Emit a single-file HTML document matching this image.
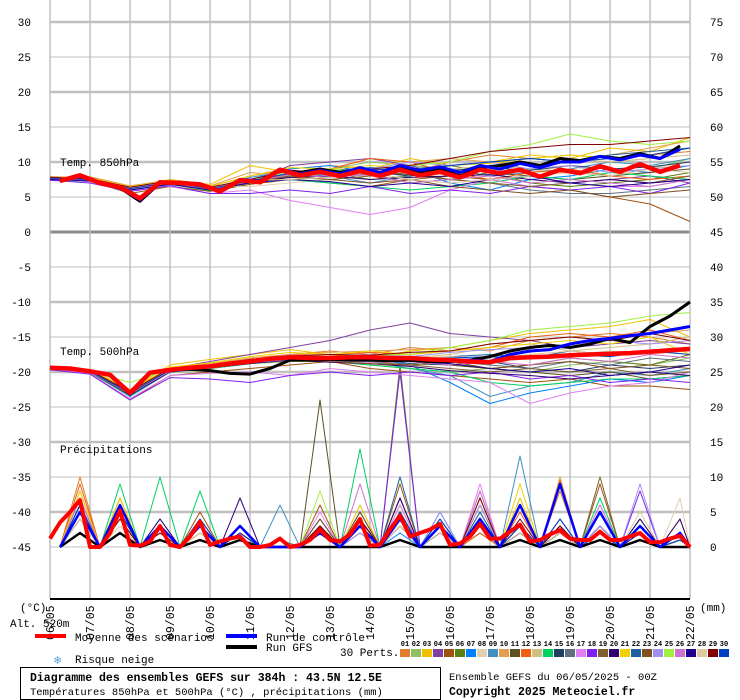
<!DOCTYPE html>
<html><head><meta charset="utf-8">
<style>
html,body{margin:0;padding:0;background:#fff;}
svg{display:block;font-family:"Liberation Mono","DejaVu Sans Mono",monospace;}
</style></head>
<body>
<svg id="chart" width="740" height="700" viewBox="0 0 740 700" xmlns="http://www.w3.org/2000/svg">
<g id="grid"></g>
<g id="series"></g>
<g id="axes"></g>
<text x="60" y="166" font-size="11">Temp. 850hPa</text>
<text x="60" y="355" font-size="11">Temp. 500hPa</text>
<text x="60" y="453" font-size="11">Précipitations</text>
<text x="20" y="611" font-size="11">(°C)</text>
<text x="700" y="611" font-size="11">(mm)</text>
<text x="10" y="627" font-size="11">Alt. 520m</text>
<g>
<rect x="35" y="634" width="31" height="4" fill="#ff0000"/>
<text x="75" y="641" font-size="11">Moyenne des scénarios</text>
<rect x="226" y="634" width="31" height="4" fill="#0000ff"/>
<text x="266" y="641" font-size="11">Run de contrôle</text>
<rect x="226" y="645" width="31" height="4" fill="#000000"/>
<text x="266" y="651" font-size="11">Run GFS</text>
<text x="54" y="664" font-size="12" fill="#5aa0e0">❄</text>
<text x="75" y="663" font-size="11">Risque neige</text>
<text x="340" y="656" font-size="11">30 Perts.</text>
<g id="pertLegend"></g>
</g>
<rect x="20.5" y="667.5" width="420" height="32" fill="none" stroke="#000"/>
<text x="30" y="681" font-size="11.5" font-weight="bold">Diagramme des ensembles GEFS sur 384h : 43.5N 12.5E</text>
<text x="30" y="695" font-size="10.5">Températures 850hPa et 500hPa (°C) , précipitations (mm)</text>
<text x="449" y="680" font-size="10.5">Ensemble GEFS du 06/05/2025 - 00Z</text>
<text x="449" y="695" font-size="11.5" font-weight="bold">Copyright 2025 Meteociel.fr</text>
</svg>
<script>
const dateLabels=["06/05","07/05","08/05","09/05","10/05","11/05","12/05","13/05","14/05","15/05","16/05","17/05","18/05","19/05","20/05","21/05","22/05"];
const leftTicks=[30,25,20,15,10,5,0,-5,-10,-15,-20,-25,-30,-35,-40,-45];
const rightTicks=[75,70,65,60,55,50,45,40,35,30,25,20,15,10,5,0];
const pertColors=["#e07b30","#8cc060","#f0c000","#8040a0","#a05010","#5a8010","#0080ff","#e0d0b0","#4090c0","#e0a050","#605020","#f06010","#d0c080","#00d060","#204060","#607080","#e080f0","#8020f0","#806030","#300070","#f0d000","#2060a0","#805020","#a090f0","#a0f040","#d070d0","#200090","#e0c8a0","#800000","#0040c0"];
// T850 mean/control/GFS: 12h steps starting at hour 6
const t850Mean=[7.3,8.1,7.0,6.4,4.8,7.1,7.0,6.8,5.8,7.4,7.1,8.9,8.1,8.6,8.0,8.7,8.0,8.9,8.1,8.6,7.8,8.9,8.4,8.9,7.9,8.9,8.4,9.4,8.6,9.7,8.6,9.5];
const t850Ctrl=[7.3,8.0,7.0,6.3,4.6,7.0,7.1,6.9,5.8,7.5,7.3,9.0,8.3,8.8,8.3,9.2,8.5,9.5,8.8,9.3,8.5,9.5,9.0,9.8,9.2,10.0,10.0,10.8,10.3,11.0,10.5,11.8];
const t850Gfs=[7.3,8.0,7.0,6.3,4.4,7.0,7.0,6.8,5.7,7.3,7.2,8.8,8.5,9.0,8.5,9.0,8.3,9.2,8.5,9.0,8.0,9.2,9.5,10.0,9.5,10.5,10.2,10.8,10.5,11.2,10.5,12.3];
// T500 mean/control/GFS: 12h steps starting at hour 0
const t500Mean=[-19.4,-19.5,-19.9,-20.4,-23.0,-20.1,-19.7,-19.4,-19.2,-18.8,-18.5,-18.1,-17.9,-18.0,-18.0,-17.9,-17.9,-18.0,-18.0,-18.2,-18.3,-18.5,-18.6,-18.0,-17.9,-17.8,-17.6,-17.5,-17.4,-17.3,-17.1,-16.9,-16.7];
const t500Ctrl=[-19.4,-19.5,-19.9,-20.4,-23.2,-20.1,-19.7,-19.4,-19.2,-18.8,-18.5,-18.1,-17.9,-18.0,-18.0,-17.9,-17.9,-18.0,-18.0,-18.2,-18.3,-18.3,-18.5,-17.5,-17.0,-16.8,-16.0,-15.5,-15.2,-14.8,-14.5,-14.0,-13.5];
const t500Gfs=[-19.4,-19.5,-19.9,-20.4,-23.0,-20.1,-19.7,-19.6,-19.8,-20.2,-20.3,-19.5,-18.3,-18.3,-18.2,-18.3,-18.3,-18.4,-18.3,-18.5,-18.5,-18.3,-17.8,-17.0,-16.5,-16.2,-16.5,-16.0,-15.2,-15.8,-13.5,-12.0,-10.0];
// precip mean: 6h steps from hour 0
const precipMean=[1.2,3.5,5,6.7,0,0,2,5.2,0.3,0.2,0.8,3,0.3,0,1.5,3.6,0.3,0.8,1.2,1.5,0,0,0.3,1.2,0,0.3,1.0,2.5,1.0,0.8,1.8,4.0,0.2,0.3,2.5,4.5,1.5,2.0,2.5,3.3,0.3,0.5,1.5,3.3,1.2,1.2,2.2,3.2,0.8,1.0,1.8,2.4,1.2,1.0,1.0,2.2,1.0,1.0,1.5,2.0,0.7,0.7,1.2,1.6,0];
// daily 18Z precip peaks
const precipCtrl=[5,6,3,3,3,0,2,3,4,3,4,6,9,5,3,2];
const precipGfs=[2,2,1,1,1,0,0,0,1,0,0,1,1,1,1,0];
// members: daily at 00Z
const t850Members=[
[7.8,7.6,6.0,7.2,6.5,8.0,9.0,9.5,9.0,8.5,10.0,11.0,10.5,11.0,10.5,11.0,11.5],
[7.5,7.4,6.3,7.0,6.0,7.5,8.5,9.0,10.0,9.5,9.0,8.0,9.0,8.5,8.0,9.0,10.5],
[7.9,7.8,6.5,7.5,6.8,9.5,8.5,8.0,9.0,10.5,9.5,10.0,11.0,10.5,12.0,11.5,13.5],
[7.6,7.5,6.2,6.8,6.0,7.0,9.5,10.0,10.5,9.5,8.0,7.5,8.0,7.0,7.5,8.0,7.0],
[7.7,7.3,5.5,6.5,5.8,6.8,7.5,7.0,6.5,7.5,8.0,7.5,6.5,6.0,5.0,4.0,1.5],
[7.8,7.6,6.2,7.0,6.2,7.5,8.0,8.5,7.5,8.0,9.5,8.5,7.0,6.5,7.0,7.5,8.5],
[7.5,7.3,6.0,6.8,6.0,7.5,9.0,9.5,8.5,9.0,7.0,6.0,7.5,8.0,9.0,8.5,9.5],
[7.7,7.5,6.4,7.2,6.5,6.5,7.0,7.5,8.0,7.5,8.5,9.0,8.5,9.5,8.0,9.0,10.0],
[7.6,7.4,6.0,7.0,6.2,7.8,8.8,8.0,7.0,8.0,9.0,8.0,8.5,9.0,10.0,9.5,10.5],
[7.8,7.9,6.6,7.4,6.6,8.5,8.0,9.0,10.5,10.0,10.5,10.0,9.5,10.0,11.0,12.0,13.0],
[7.7,7.4,6.1,6.9,6.1,7.2,8.2,7.8,8.5,8.2,7.5,8.5,8.0,7.5,8.0,8.5,9.0],
[7.9,7.6,6.2,7.1,6.2,7.3,8.3,9.0,10.5,10.0,8.5,7.5,8.5,9.0,8.0,7.5,8.0],
[7.6,7.5,6.3,7.0,6.4,7.1,8.1,8.5,8.0,8.8,9.0,9.5,9.0,10.5,10.0,10.5,11.0],
[7.5,7.2,6.0,6.8,5.9,7.0,7.5,7.0,6.5,6.0,6.5,7.0,8.0,7.5,8.5,8.0,7.5],
[7.8,7.6,6.2,7.2,6.3,7.5,8.6,8.2,8.6,8.0,8.8,9.2,8.8,9.5,9.0,9.3,10.0],
[7.7,7.5,6.2,7.1,6.1,7.2,8.0,8.0,8.3,7.0,7.5,7.0,6.0,5.5,5.5,6.0,6.5],
[7.6,7.2,6.3,6.5,5.5,6.0,4.5,3.5,2.5,3.5,6.0,7.5,6.5,7.0,6.5,6.5,7.5],
[7.4,7.0,5.8,6.6,5.5,5.5,6.0,5.5,6.5,5.5,6.0,5.5,6.5,6.0,6.5,5.5,7.0],
[7.7,7.5,6.0,7.0,6.1,7.0,7.8,7.5,8.0,8.5,7.5,7.0,6.5,7.0,7.5,7.0,8.0],
[7.6,7.3,6.1,6.9,6.0,7.1,7.8,8.0,7.5,7.8,8.0,8.2,7.5,7.0,7.5,7.0,7.5],
[7.8,7.7,6.5,7.3,6.5,8.0,9.2,9.0,9.5,9.0,9.5,9.8,10.5,11.0,10.5,11.0,12.0],
[7.7,7.5,6.2,7.1,6.2,7.4,8.6,8.8,9.2,9.0,9.5,10.0,10.5,10.0,11.0,11.5,12.0],
[7.6,7.4,6.0,6.9,6.0,7.0,8.0,7.5,7.0,7.5,6.5,6.0,5.5,6.0,5.0,5.5,6.0],
[7.8,7.6,6.3,7.2,6.2,7.3,8.5,8.0,9.0,10.0,9.5,10.0,9.0,9.5,8.5,9.0,9.5],
[7.7,7.5,6.2,7.0,6.3,7.4,8.6,9.0,8.5,9.5,10.0,11.5,12.5,14.0,13.0,12.5,13.0],
[7.6,7.4,6.1,7.0,6.1,7.2,8.2,7.8,8.2,7.0,7.5,8.0,7.0,7.5,7.0,6.5,7.5],
[7.5,7.3,6.0,6.8,6.0,7.0,7.5,7.2,6.5,7.0,6.5,7.5,8.0,7.0,6.5,7.0,7.5],
[7.8,7.6,6.3,7.2,6.3,7.4,7.5,7.8,8.5,7.5,7.0,7.5,8.0,8.5,8.0,9.0,8.5],
[7.8,7.6,6.4,7.3,6.4,7.5,8.8,8.5,9.0,9.5,10.5,11.5,12.0,12.5,12.5,13.0,13.5],
[7.7,7.5,6.2,7.1,6.2,7.3,8.4,8.6,9.0,8.8,9.5,10.0,10.5,10.0,10.5,11.0,12.0]];
const t500Members=[
[-19.3,-19.8,-22.8,-19.5,-19.0,-18.0,-17.5,-17.0,-17.5,-16.5,-17.0,-16.0,-15.5,-15.0,-14.5,-15.0,-16.0],
[-19.5,-20.0,-23.2,-19.8,-19.5,-18.8,-18.5,-18.5,-19.0,-19.5,-20.0,-19.5,-20.0,-19.0,-18.5,-19.0,-18.0],
[-19.2,-19.6,-22.5,-19.0,-18.2,-17.5,-16.8,-17.5,-18.0,-17.0,-16.5,-15.5,-14.5,-14.0,-13.5,-12.5,-15.0],
[-19.4,-19.9,-23.0,-19.5,-18.5,-17.5,-16.5,-15.5,-14.0,-13.0,-14.5,-15.0,-15.5,-16.5,-16.0,-15.5,-16.0],
[-19.6,-20.2,-24.0,-20.5,-20.0,-19.5,-19.0,-18.5,-19.5,-20.0,-20.5,-21.0,-21.5,-21.0,-22.0,-22.0,-22.5],
[-19.4,-19.9,-23.2,-19.8,-19.0,-18.5,-17.8,-18.0,-17.5,-18.5,-19.0,-19.5,-19.0,-18.0,-18.5,-19.0,-17.5],
[-19.5,-20.0,-23.5,-20.0,-19.5,-18.8,-18.2,-18.5,-18.0,-19.0,-21.5,-24.5,-23.0,-22.0,-21.0,-21.5,-20.5],
[-19.3,-19.8,-22.9,-19.6,-19.1,-18.4,-18.0,-18.5,-19.0,-19.2,-18.5,-18.8,-18.0,-17.5,-17.0,-17.5,-17.0],
[-19.5,-20.0,-23.3,-19.9,-19.4,-18.7,-18.1,-18.3,-18.5,-19.5,-20.5,-23.5,-22.0,-21.5,-20.0,-20.5,-19.5],
[-19.3,-19.7,-22.7,-19.4,-18.8,-18.0,-17.5,-17.2,-17.0,-16.8,-16.5,-17.0,-15.5,-15.0,-15.5,-14.5,-14.0],
[-19.4,-19.9,-23.1,-19.7,-19.3,-18.6,-18.0,-18.2,-18.0,-18.5,-19.0,-19.5,-20.0,-20.5,-20.0,-21.0,-20.5],
[-19.4,-19.8,-23.0,-19.6,-19.1,-18.3,-17.6,-17.5,-17.2,-17.5,-17.0,-16.5,-15.0,-14.5,-15.0,-14.0,-15.5],
[-19.3,-19.8,-22.8,-19.5,-19.0,-18.2,-17.8,-18.0,-18.5,-18.0,-17.5,-16.5,-16.0,-17.0,-16.5,-16.0,-15.0],
[-19.5,-20.1,-23.4,-20.0,-19.5,-18.8,-18.3,-18.5,-19.0,-19.5,-20.0,-21.5,-22.0,-21.5,-21.0,-21.0,-20.5],
[-19.4,-20.0,-23.2,-19.9,-19.4,-18.7,-18.2,-18.5,-18.0,-18.8,-19.0,-18.5,-19.5,-20.0,-19.0,-19.5,-19.0],
[-19.4,-19.9,-23.0,-19.7,-19.2,-18.5,-18.0,-18.0,-18.2,-18.0,-18.5,-19.0,-19.5,-18.5,-19.0,-18.0,-18.5],
[-19.6,-20.2,-23.8,-20.5,-20.2,-20.0,-20.5,-19.5,-20.0,-20.5,-21.0,-21.5,-24.5,-23.0,-22.0,-21.5,-20.0],
[-19.7,-20.3,-24.0,-20.8,-21.0,-21.5,-20.5,-20.0,-20.5,-20.0,-20.5,-20.0,-21.0,-20.5,-21.5,-21.0,-21.5],
[-19.4,-19.9,-23.0,-19.8,-19.2,-18.6,-18.0,-18.3,-18.5,-19.0,-19.5,-20.0,-19.5,-20.0,-19.5,-20.5,-20.0],
[-19.5,-20.0,-23.3,-20.0,-19.4,-18.8,-18.3,-18.6,-18.8,-19.2,-19.8,-20.2,-20.5,-21.0,-20.5,-20.0,-20.5],
[-19.3,-19.7,-22.6,-19.3,-18.7,-17.8,-17.2,-17.5,-17.0,-17.5,-17.0,-16.5,-16.0,-15.5,-16.0,-15.0,-17.5],
[-19.4,-19.9,-23.0,-19.6,-19.1,-18.4,-17.8,-18.0,-17.8,-18.2,-17.8,-17.5,-18.0,-17.0,-17.5,-17.0,-16.5],
[-19.5,-20.0,-23.2,-19.8,-19.3,-18.6,-18.1,-18.5,-18.8,-19.0,-18.5,-19.5,-19.0,-18.5,-19.5,-19.0,-19.5],
[-19.3,-19.8,-22.9,-19.5,-19.0,-18.2,-17.6,-17.8,-17.5,-17.8,-17.2,-16.8,-16.5,-16.0,-15.5,-16.0,-15.5],
[-19.4,-19.9,-21.5,-19.6,-19.0,-18.3,-17.7,-17.8,-17.6,-17.5,-16.5,-15.5,-14.0,-13.5,-13.0,-12.0,-11.5],
[-19.5,-20.0,-23.1,-19.9,-19.4,-18.7,-18.2,-18.4,-18.6,-18.5,-19.0,-18.5,-19.0,-18.0,-18.5,-17.5,-18.0],
[-19.4,-19.9,-23.0,-19.7,-19.2,-18.5,-18.0,-18.2,-18.0,-18.5,-18.8,-19.5,-20.0,-19.5,-20.5,-20.0,-19.0],
[-19.4,-19.8,-22.9,-19.6,-19.1,-18.4,-17.9,-18.1,-17.8,-18.0,-17.8,-18.0,-17.5,-17.0,-17.5,-17.0,-17.5],
[-19.3,-19.8,-22.8,-19.5,-19.0,-18.2,-17.7,-17.5,-17.6,-17.2,-17.0,-16.0,-15.5,-15.0,-15.5,-14.5,-15.5],
[-19.4,-19.9,-23.0,-19.7,-19.2,-18.5,-18.0,-18.2,-18.0,-18.3,-18.0,-17.8,-18.0,-17.5,-17.8,-17.0,-17.5]];
const precipMembers=[
[10,6,3,2,1,0,3,4,5,3,4,2,8,3,2,1],
[6,5,2,4,1,0,2,3,4,2,5,3,2,2,1,1],
[8,4,4,3,2,0,4,6,6,2,3,7,3,2,1,2],
[5,5,3,2,3,0,2,3,5,4,8,3,2,3,2,1],
[4,7,2,5,1,0,6,3,9,2,2,3,2,9,2,4],
[5,4,2,3,1,1,3,5,26,4,2,2,3,2,3,1],
[7,6,4,3,1,0,4,3,2,5,3,6,4,3,2,2],
[6,5,2,3,2,0,2,4,3,3,3,2,2,1,1,7],
[5,4,3,4,1,6,3,2,4,2,4,13,2,2,3,1],
[8,5,2,3,3,0,2,3,4,4,3,3,10,2,2,1],
[4,6,3,2,1,0,21,5,3,2,4,2,3,2,1,2],
[9,4,2,3,1,0,3,2,4,3,2,5,9.5,2,2,1],
[6,5,3,4,2,0,2,4,3,4,5,2,3,2,1,1],
[6,9,10,8,2,1,3,14,5,3,4,2,2,7,2,1],
[5,4,3,3,2,0,4,3,7,3,4,3,2,1,4,1],
[4,5,2,3,1,1,2,3,5,3,4,2,3,2,1,1],
[7,6,3,4,2,0,5,4,6,3,9,4,3,2,1,2],
[5,4,2,3,1,0,3,4,25,3,3,2,3,2,8,1],
[6,5,3,2,2,0,3,4,5,3,7,3,2,10,2,1],
[5,6,4,3,7,0,2,3,7,3,4,2,4,3,4,4],
[8,7,3,2,1,0,2,3,4,3,4,9,3,2,1,2],
[6,5,2,3,1,0,3,4,10,4,5,3,2,5,2,1],
[5,4,3,4,2,0,4,3,3,2,6,3,2,3,2,1],
[6,5,3,3,1,0,3,2,4,5,6,3,4,3,9,2],
[5,4,3,3,1,0,8,3,4,2,3,2,3,2,2,1],
[7,6,3,3,2,0,2,9,5,3,8,2,3,6,2,2],
[6,5,3,3,2,0,3,4,4,2,3,2,3,2,2,1],
[4,3,2,2,1,0,2,3,3,2,3,2,2,2,5,1],
[5,4,2,3,1,0,3,4,4,3,7,4,3,2,1,2],
[6,5,3,4,2,0,2,3,5,4,4,3,4,2,1,1]];

const NS="http://www.w3.org/2000/svg";
const X0=50, PXH=40/24;
function xh(h){return X0+h*PXH;}
function yt(v){return 232-7*v;}
function yp(v){return 547-7*v;}
function el(tag,attrs,parent){const e=document.createElementNS(NS,tag);for(const k in attrs)e.setAttribute(k,attrs[k]);parent.appendChild(e);return e;}
const grid=document.getElementById('grid');
const series=document.getElementById('series');
const axes=document.getElementById('axes');

// horizontal grid
leftTicks.forEach(function(v){
  const y=yt(v);
  const thick=(v%10===0)&&v!==0;
  const g=el('line',{x1:50,x2:690,y1:y,y2:y,stroke:v===0?'#8a8a8a':'#c0c0c0','stroke-width':v===0?3:(thick?2.5:1)},grid);
  
  
  const t=el('text',{x:31,y:y+4,'font-size':11,'text-anchor':'end'},axes);
  t.textContent=String(v);
  
  
});
rightTicks.forEach(function(v,i){
  const y=22+35*i;
  const t=el('text',{x:710,y:y+4,'font-size':11},axes);
  t.textContent=String(v);
  
  
});
dateLabels.forEach(function(d,i){
  const x=xh(i*24);
  const g=el('line',{x1:x,x2:x,y1:0,y2:599,stroke:'#c0c0c0','stroke-width':1.5},grid);
  
  
  const t=el('text',{x:0,y:0,'font-size':11.5,transform:'translate('+(x+4)+',640) rotate(-90)'},axes);
  t.textContent=d;
  
  
});
const ax=el('line',{x1:50,x2:690,y1:599,y2:599,stroke:'#000','stroke-width':2},axes);



function poly(pts,color,w,name){
  const p=el('polyline',{points:pts.map(function(q){return q[0].toFixed(1)+','+q[1].toFixed(1);}).join(' '),fill:'none',stroke:color,'stroke-width':w,'stroke-linejoin':'round'},series);
  
  
  return p;
}
function dailyPts(arr,fy){return arr.map(function(v,i){return [xh(i*24),fy(v)];});}
function halfPts(arr,start,fy){return arr.map(function(v,i){return [xh(start+i*12),fy(v)];});}
function peakPts(arr){const pts=[];arr.forEach(function(v,d){pts.push([xh(d*24+6),yp(0)]);pts.push([xh(d*24+18),yp(v)]);});pts.push([xh(384),yp(0)]);return pts;}

// members
precipMembers.forEach(function(m,i){poly(peakPts(m),pertColors[i],1,'precip-member-'+(i+1));});
t500Members.forEach(function(m,i){poly(dailyPts(m,yt),pertColors[i],1,'t500-member-'+(i+1));});
t850Members.forEach(function(m,i){poly(dailyPts(m,yt),pertColors[i],1,'t850-member-'+(i+1));});
// GFS / control / mean
poly(peakPts(precipGfs),'#000',2.5,'precip-gfs');
poly(peakPts(precipCtrl),'#0000ff',2.5,'precip-control');
poly(precipMean.map(function(v,i){return [xh(i*6),yp(v)];}),'#ff0000',4,'precip-mean');
poly(halfPts(t500Gfs,0,yt),'#000',3,'t500-gfs');
poly(halfPts(t500Ctrl,0,yt),'#0000ff',3,'t500-control');
poly(halfPts(t500Mean,0,yt),'#ff0000',4.5,'t500-mean');
poly(halfPts(t850Gfs,6,yt),'#000',3,'t850-gfs');
poly(halfPts(t850Ctrl,6,yt),'#0000ff',3,'t850-control');
poly(halfPts(t850Mean,6,yt),'#ff0000',4.5,'t850-mean');

// pert legend
const pl=document.getElementById('pertLegend');
pertColors.forEach(function(c,i){
  const x=400+i*11;
  const r=el('rect',{x:x,y:649,width:10,height:8,fill:c},pl);
  
  
  const t=el('text',{x:x+5,y:646,'font-size':7,'text-anchor':'middle','font-weight':'bold'},pl);
  t.textContent=(i<9?'0':'')+(i+1);
  
  
});
</script>
</body></html>
